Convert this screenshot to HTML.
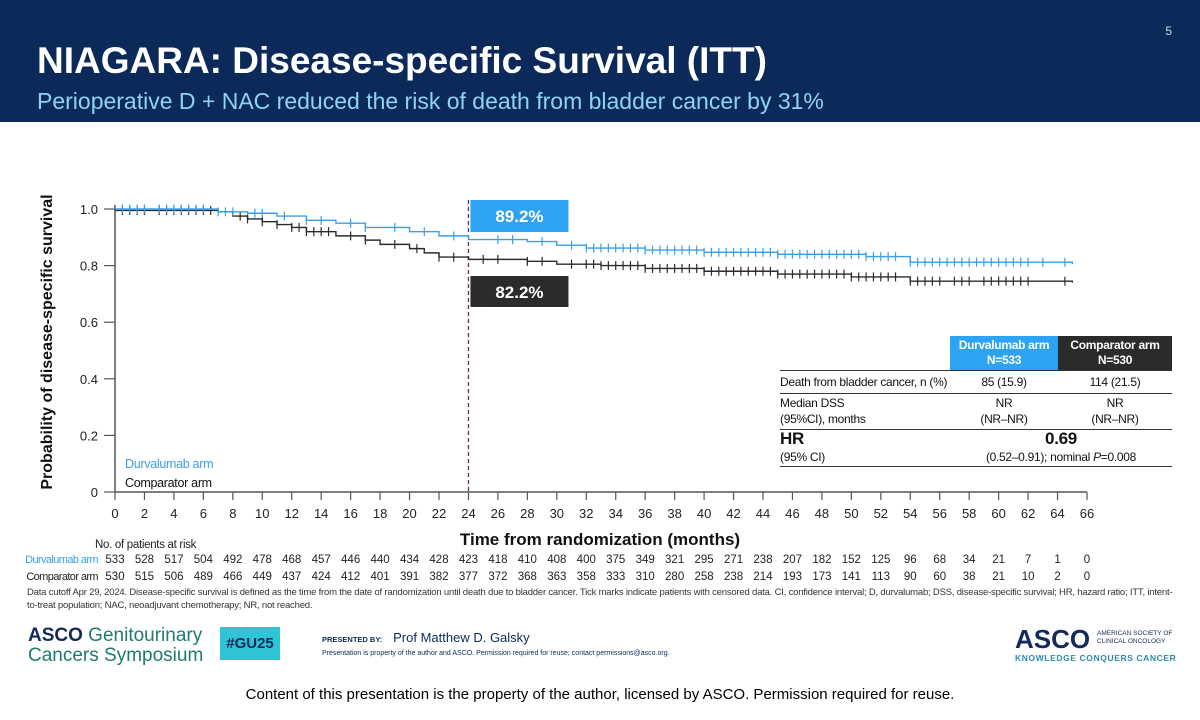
<!DOCTYPE html>
<html><head><meta charset="utf-8"><style>
body{margin:0;width:1200px;height:720px;overflow:hidden;background:#fff;font-family:"Liberation Sans",sans-serif;position:relative}
.abs{position:absolute}
#hdr{left:0;top:0;width:1200px;height:122px;background:#0c2a59}
table{border-collapse:collapse}
td{white-space:nowrap;padding:0}
</style></head><body>
<div id="hdr" class="abs"></div>
<div class="abs" style="right:28px;top:24px;color:#cfd8e8;font-size:12px">5</div>
<div class="abs" style="left:37px;top:40px;color:#fff;font-size:37px;font-weight:bold">NIAGARA: Disease-specific Survival (ITT)</div>
<div class="abs" style="left:37px;top:88px;color:#8fd3f2;font-size:23px">Perioperative D + NAC reduced the risk of death from bladder cancer by 31%</div>

<svg class="abs" style="left:0;top:0" width="1200" height="620" id="chart"></svg>

<div class="abs" style="left:780px;top:336px;width:392px;font-size:12px;color:#111;letter-spacing:-0.3px">
<table style="width:392px">
<tr style="height:34px"><td style="width:170px"></td><td style="width:108px;background:#2ea3f2;color:#fff;text-align:center;font-weight:bold;line-height:15px">Durvalumab arm<br>N=533</td><td style="background:#2b2b2b;color:#fff;text-align:center;font-weight:bold;line-height:15px">Comparator arm<br>N=530</td></tr>
<tr style="height:23px;border-top:1px solid #333;border-bottom:1px solid #333"><td>Death from bladder cancer, n (%)</td><td style="text-align:center">85 (15.9)</td><td style="text-align:center">114 (21.5)</td></tr>
<tr style="height:36px;border-bottom:1px solid #333;line-height:16px"><td>Median DSS<br>(95%CI), months</td><td style="text-align:center">NR<br>(NR–NR)</td><td style="text-align:center">NR<br>(NR–NR)</td></tr>
<tr style="height:36px;border-bottom:1px solid #333;line-height:17px"><td><b style="font-size:17px">HR</b><br>(95% CI)</td><td colspan="2" style="text-align:center"><b style="font-size:17px">0.69</b><br>(0.52–0.91); nominal <i>P</i>=0.008</td></tr>
</table></div>

<div class="abs" style="left:27px;top:586px;width:1150px;font-size:9.5px;color:#333;line-height:13px;letter-spacing:-0.2px">Data cutoff Apr 29, 2024. Disease-specific survival is defined as the time from the date of randomization until death due to bladder cancer. Tick marks indicate patients with censored data. CI, confidence interval; D, durvalumab; DSS, disease-specific survival; HR, hazard ratio; ITT, intent-to-treat population; NAC, neoadjuvant chemotherapy; NR, not reached.</div>

<div class="abs" style="left:28px;top:626px;line-height:20px;font-size:19px;color:#1f7a6e"><b style="color:#132a5c">ASCO</b> Genitourinary<br>Cancers Symposium</div>
<div class="abs" style="left:220px;top:627px;width:60px;height:33px;background:#2ec4d6;color:#0c2a59;font-weight:bold;font-size:15px;text-align:center;line-height:33px">#GU25</div>
<div class="abs" style="left:322px;top:630px;font-size:13px;color:#0c2a59"><b style="font-size:7.5px">PRESENTED BY:</b> &nbsp; Prof Matthew D. Galsky</div>
<div class="abs" style="left:322px;top:650px;font-size:7px;color:#0c2a59">Presentation is property of the author and ASCO. Permission required for reuse; contact permissions@asco.org.</div>
<div class="abs" style="left:1015px;top:624px;font-size:26px;font-weight:bold;color:#132a5c">ASCO</div>
<div class="abs" style="left:1097px;top:630px;font-size:6.5px;color:#132a5c;line-height:8px">AMERICAN SOCIETY OF<br>CLINICAL ONCOLOGY</div>
<div class="abs" style="left:1015px;top:653px;font-size:8.5px;font-weight:bold;color:#2a8bb0;letter-spacing:0.6px">KNOWLEDGE CONQUERS CANCER</div>
<div class="abs" style="left:0;top:686px;width:1200px;text-align:center;font-size:15px;color:#000">Content of this presentation is the property of the author, licensed by ASCO. Permission required for reuse.</div>

<script>
const xTicks=[0,2,4,6,8,10,12,14,16,18,20,22,24,26,28,30,32,34,36,38,40,42,44,46,48,50,52,54,56,58,60,62,64,66];
const yTicks=[0,0.2,0.4,0.6,0.8,1.0];
const yTickLabels=["0","0.2","0.4","0.6","0.8","1.0"];
const durvaT=[0,7,9,11,13,15,17,20,22,24,28,30,32,36,40,45,51,54,65];
const durvaS=[1,0.99,0.985,0.975,0.96,0.95,0.935,0.92,0.905,0.892,0.885,0.872,0.862,0.855,0.847,0.84,0.832,0.812,0.805];
const compT=[0,7,8,9,10,11,12,13,15,17,18,20,21,22,24,28,30,33,36,40,45,50,54,65];
const compS=[0.995,0.99,0.975,0.965,0.955,0.945,0.935,0.92,0.905,0.89,0.875,0.86,0.845,0.83,0.822,0.815,0.805,0.8,0.79,0.78,0.77,0.76,0.745,0.74];
const durvaCens=[0.5,1,1.5,2,3,3.5,4,4.5,5,5.5,6,7,7.5,8,9.5,10,11.5,13,14,16,17,19,21,23,26,27,29,31,32,32.5,33,33.5,34,34.5,35,35.5,36,36.5,37,37.5,38,38.5,39,39.5,40,40.5,41,41.5,42,42.5,43,43.5,44,44.5,45,45.5,46,46.5,47,47.5,48,48.5,49,49.5,50,50.5,51,51.5,52,52.5,53,54,54.5,55,55.5,56,56.5,57,57.5,58,58.5,59,59.5,60,60.5,61,61.5,62,63,64.5];
const compCens=[0.5,1,1.5,2,3,3.5,4,4.5,5,5.5,6,6.5,8.5,9,10,11,12,12.5,13,13.5,14,14.5,16,17,19,20.5,22,23,25,26,28,29,31,32,32.5,33,33.5,34,34.5,35,35.5,36,36.5,37,37.5,38,38.5,39,39.5,40,40.5,41,41.5,42,42.5,43,43.5,44,44.5,45,45.5,46,46.5,47,47.5,48,48.5,49,49.5,50,50.5,51,51.5,52,52.5,53,54,54.5,55,55.5,56,57,57.5,58,59,59.5,60,60.5,61,61.5,62,64.5];
const durvaRisk=[533,528,517,504,492,478,468,457,446,440,434,428,423,418,410,408,400,375,349,321,295,271,238,207,182,152,125,96,68,34,21,7,1,0];
const compRisk=[530,515,506,489,466,449,437,424,412,401,391,382,377,372,368,363,358,333,310,280,258,238,214,193,173,141,113,90,60,38,21,10,2,0];
const landmarkMonth=24;
const landmarkLabels=["89.2%","82.2%"];

const svg=document.getElementById('chart');
const NS='http://www.w3.org/2000/svg';
const X=m=>115+m*(1087-115)/66;
const Y=s=>492-s*283;
function mk(tag,attrs,parent){const e=document.createElementNS(NS,tag);for(const k in attrs)e.setAttribute(k,attrs[k]);(parent||svg).appendChild(e);return e;}
function surv(T,S,t){let s=S[0];for(let i=0;i<T.length;i++){if(T[i]<=t)s=S[i];}return s;}

let a=mk('line',{x1:115,y1:Y(1.0)-4,x2:115,y2:492,stroke:'#555','stroke-width':1.5});


a=mk('line',{x1:115,y1:492,x2:X(66),y2:492,stroke:'#555','stroke-width':1.5});


yTicks.forEach((v,i)=>{
  mk('line',{x1:104,x2:115,y1:Y(v),y2:Y(v),stroke:'#555','stroke-width':1.2});
  const t=mk('text',{x:98,y:Y(v)+5,'text-anchor':'end','font-size':13,fill:'#222'});t.textContent=yTickLabels[i];
  
  
});
xTicks.forEach(v=>{
  mk('line',{x1:X(v),x2:X(v),y1:492,y2:500,stroke:'#555','stroke-width':1.2});
  const t=mk('text',{x:X(v),y:518,'text-anchor':'middle','font-size':13,fill:'#222'});t.textContent=v;
  
  
});
let t=mk('text',{x:600,y:545,'text-anchor':'middle','font-size':17,'font-weight':'bold',fill:'#111'});t.textContent='Time from randomization (months)';


t=mk('text',{x:0,y:0,'text-anchor':'middle','font-size':16,'font-weight':'bold',fill:'#111',transform:'translate(52,342) rotate(-90)'});t.textContent='Probability of disease-specific survival';



let l=mk('line',{x1:X(landmarkMonth),x2:X(landmarkMonth),y1:200,y2:492,stroke:'#6b2d4a','stroke-width':1.3,'stroke-dasharray':'4,3'});



function curve(T,S,C,color,name){
  let d='M'+X(T[0])+','+Y(S[0]);
  for(let i=1;i<T.length;i++){d+=' H'+X(T[i])+' V'+Y(S[i]);}
  d+=' H'+X(T[T.length-1]);
  const p=mk('path',{d:d,fill:'none',stroke:color,'stroke-width':1.4});
  
  
  C.forEach(c=>{const y=Y(surv(T,S,c));
    const m=mk('line',{x1:X(c),x2:X(c),y1:y-4.5,y2:y+4.5,stroke:color,'stroke-width':1.2});
    
    });
}
curve(compT,compS,compCens,'#2b2b2b','comparator');
curve(durvaT,durvaS,durvaCens,'#3a9fe8','durvalumab');

const bx=X(landmarkMonth)+2;
let r=mk('rect',{x:bx,y:200,width:98,height:32,fill:'#2ea3f2'});


t=mk('text',{x:bx+49,y:222,'text-anchor':'middle','font-size':17,'font-weight':'bold',fill:'#fff'});t.textContent=landmarkLabels[0];


r=mk('rect',{x:bx,y:276,width:98,height:31,fill:'#2b2b2b'});


t=mk('text',{x:bx+49,y:298,'text-anchor':'middle','font-size':17,'font-weight':'bold',fill:'#fff'});t.textContent=landmarkLabels[1];



t=mk('text',{x:125,y:468,'font-size':12.5,fill:'#3a9fe8','letter-spacing':-0.3});t.textContent='Durvalumab arm';


t=mk('text',{x:125,y:487,'font-size':12.5,fill:'#111','letter-spacing':-0.3});t.textContent='Comparator arm';



t=mk('text',{x:95,y:548,'font-size':11.5,fill:'#222','letter-spacing':-0.3});t.textContent='No. of patients at risk';


t=mk('text',{x:98,y:563,'text-anchor':'end','font-size':11,fill:'#3a9fe8','letter-spacing':-0.6});t.textContent='Durvalumab arm';


t=mk('text',{x:98,y:580,'text-anchor':'end','font-size':11,fill:'#222','letter-spacing':-0.6});t.textContent='Comparator arm';


xTicks.forEach((v,i)=>{
  let a=mk('text',{x:X(v),y:563,'text-anchor':'middle','font-size':11.5,fill:'#222'});a.textContent=durvaRisk[i];
  
  
  let b=mk('text',{x:X(v),y:580,'text-anchor':'middle','font-size':11.5,fill:'#222'});b.textContent=compRisk[i];
  
  
});
</script>
</body></html>
